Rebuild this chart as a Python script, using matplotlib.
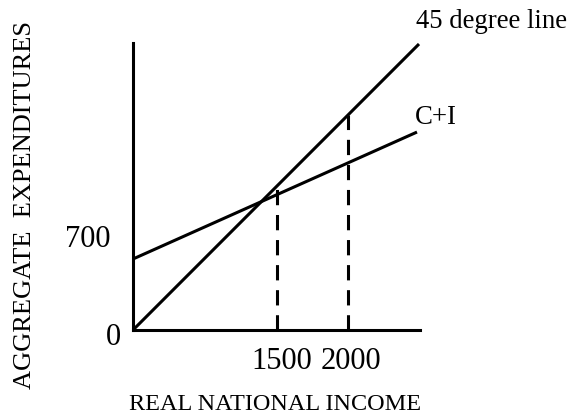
import matplotlib
matplotlib.use("Agg")
import matplotlib.pyplot as plt

# diagram units (schematic, not to scale)
income_line = [0, 286]          # 45 degree line x-range
ci_income = [0, 284]
ci_intercept = 71
ci_slope = 0.447
dash_positions = [144, 215]     # where the labelled incomes sit
dash_labels = ["1500", "2000"]
y_tick_pos = [0, 91]
y_tick_labels = ["0", "700"]

plt.rcParams['font.family'] = ['Liberation Serif', 'DejaVu Serif']

fig = plt.figure(figsize=(5.69, 4.14), dpi=100)
ax = fig.add_axes([133 / 569, 83 / 414, 287 / 569, 287 / 414])
ax.set_xlim(0, 287)
ax.set_ylim(0, 287)

lw = 2.2
ax.plot(income_line, income_line, color="black", lw=lw, solid_capstyle="butt", clip_on=False)
ci_vals = [ci_intercept + ci_slope * x for x in ci_income]
ax.plot(ci_income, ci_vals, color="black", lw=lw, solid_capstyle="butt", clip_on=False)

for x in dash_positions:
    ax.plot([x, x], [0, x], color="black", lw=lw, linestyle=(0, (5, 3.2)))

for s in ["top", "right"]:
    ax.spines[s].set_visible(False)
for s in ["left", "bottom"]:
    ax.spines[s].set_linewidth(lw)
ax.set_xticks([])
ax.set_yticks([])

fs = 22
ax.text(dash_positions[0] + 5, -31, dash_labels[0], ha="center", va="center", fontsize=fs, clip_on=False)
ax.text(dash_positions[1] + 3, -31, dash_labels[1], ha="center", va="center", fontsize=fs, clip_on=False)
ax.text(-20, y_tick_pos[0] - 7, y_tick_labels[0], ha="center", va="center", fontsize=fs)
ax.text(-45, y_tick_pos[1], y_tick_labels[1], ha="center", va="center", fontsize=fs)

ax.text(142, -74, "REAL NATIONAL INCOME", ha="center", va="center", fontsize=17.5)
ax.text(-108, 126, "AGGREGATE  EXPENDITURES", ha="center", va="center",
        fontsize=19, rotation=90)
ax.text(283, 309, "45 degree line", ha="left", va="center", fontsize=19.3)
ax.text(282, 213, "C+I", ha="left", va="center", fontsize=19.3)

fig.savefig("out.png", dpi=100)
